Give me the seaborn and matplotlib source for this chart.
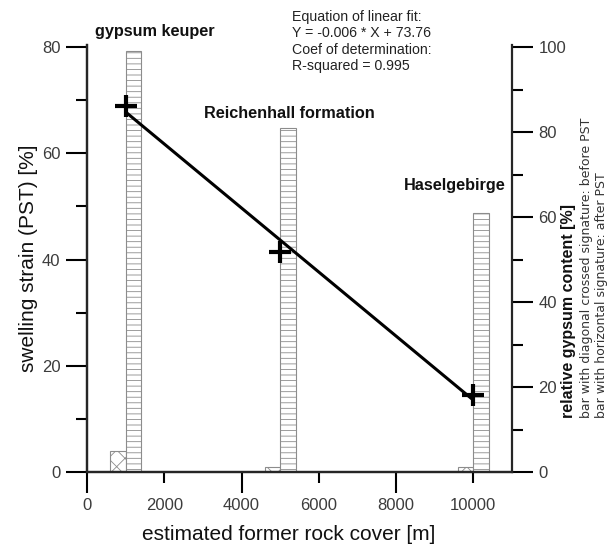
import matplotlib
matplotlib.use("Agg")
import matplotlib.pyplot as plt
import numpy as np
import seaborn as sns

# data
formations = ["gypsum keuper", "Reichenhall formation", "Haselgebirge"]
rock_cover = [1000, 5000, 10000]          # estimated former rock cover [m]
swelling_strain = [69.0, 41.5, 14.5]      # PST [%]
gypsum_before = [5.0, 1.2, 1.2]           # relative gypsum content before PST [%]
gypsum_after = [99.0, 81.0, 61.0]         # relative gypsum content after PST [%]
label_pos_x = [1750, 5250, 9530]
label_pos_y = [83.0, 67.5, 54.0]

sns.set_style("ticks")
plt.rcParams["font.family"] = ["Liberation Sans", "DejaVu Sans"]
plt.rcParams["hatch.color"] = "#9a9a9a"
plt.rcParams["hatch.linewidth"] = 0.6

fig = plt.figure(figsize=(6.15, 5.46), dpi=100)
ax = fig.add_axes([87 / 615, 74 / 546, 425 / 615, 427 / 546])
ax2 = ax.twinx()

# bars on the right axis: diagonal crossed = before PST, horizontal = after PST
ax2.bar(rock_cover, gypsum_before, width=-400, align="edge", color="white",
        edgecolor="#8c8c8c", linewidth=0.8, hatch="xx")
ax2.bar(rock_cover, gypsum_after, width=400, align="edge", color="white",
        edgecolor="#8c8c8c", linewidth=0.8, hatch="---")

# linear fit through the swelling strain points
coef = np.polyfit(rock_cover, swelling_strain, 1)
fit_y = np.polyval(coef, rock_cover)
sns.lineplot(x=rock_cover, y=fit_y, ax=ax, color="black", linewidth=2.2)
sns.scatterplot(x=rock_cover, y=swelling_strain, ax=ax, marker="+", s=230,
                color="black", linewidth=3, zorder=5)

ax.set_zorder(ax2.get_zorder() + 1)
ax.patch.set_visible(False)

ax.set_xlim(0, 11000)
ax.set_ylim(0, 80.4)
ax2.set_ylim(0, 100.5)

tick_col = "#3c3c3c"
ax.set_xticks([0, 4000, 8000])
ax.set_xticks([2000, 6000, 10000], minor=True)
ax.xaxis.set_minor_formatter(matplotlib.ticker.FixedFormatter(["2000", "6000", "10000"]))
ax.set_yticks([0, 20, 40, 60, 80])
ax.set_yticks([10, 30, 50, 70], minor=True)
ax2.set_yticks([0, 20, 40, 60, 80, 100])
ax2.set_yticks([10, 30, 50, 70, 90], minor=True)

for a in (ax, ax2):
    a.tick_params(which="major", length=15, width=1.5, labelsize=12, colors="black",
                  labelcolor=tick_col, pad=4)
    a.tick_params(which="minor", length=8, width=1.5, labelsize=12, colors="black",
                  labelcolor=tick_col, pad=11)
    for s in a.spines.values():
        s.set_linewidth(1.6)
    a.spines["top"].set_visible(False)
ax.spines["right"].set_visible(False)
ax.set_xlabel("")
ax.set_ylabel("")

for name, x, y in zip(formations, label_pos_x, label_pos_y):
    ax.text(x, y, name, ha="center", va="center", fontsize=11.7, fontweight="bold",
            color="#111111", clip_on=False)

fig.text(292 / 615, 1 - 10 / 546,
         "Equation of linear fit:\nY = -0.006 * X + 73.76\nCoef of determination:\nR-squared = 0.995",
         ha="left", va="top", fontsize=10.2, color="#222222", linespacing=1.22)

fig.text(289 / 615, 1 - 535 / 546, "estimated former rock cover [m]",
         ha="center", va="center", fontsize=15, color="#111111")
fig.text(28 / 615, 1 - 258 / 546, "swelling strain (PST) [%]", rotation=90,
         ha="center", va="center", fontsize=15, color="#111111")
fig.text(569 / 615, 1 - 418 / 546, "relative gypsum content [%]", rotation=90,
         ha="center", va="bottom", fontsize=11.5, fontweight="bold",
         color="#111111")
fig.text(586.5 / 615, 1 - 418 / 546, "bar with diagonal crossed signature: before PST",
         rotation=90, ha="center", va="bottom", fontsize=9, family=["DejaVu Sans"],
         color="#333333")
fig.text(601 / 615, 1 - 418 / 546, "bar with horizontal signature: after PST",
         rotation=90, ha="center", va="bottom", fontsize=9, family=["DejaVu Sans"],
         color="#333333")

fig.savefig("out.png", dpi=100, facecolor="white")
